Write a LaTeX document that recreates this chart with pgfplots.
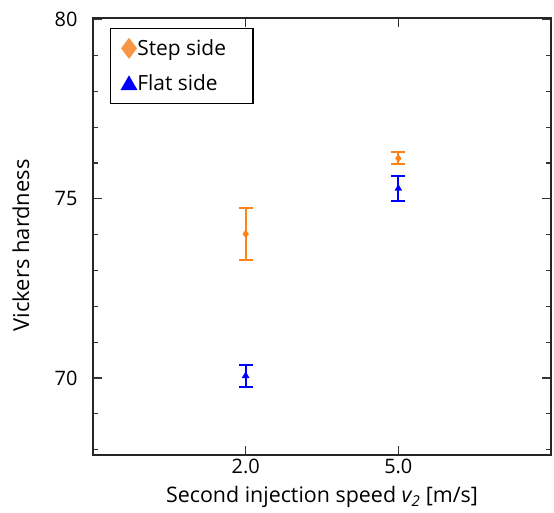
\documentclass[border=0pt]{standalone}
\usepackage{pgfplots}
\pgfplotsset{compat=1.18}
\usepackage{fontspec}
\setmainfont{Open Sans}
\definecolor{stepor}{RGB}{255,130,20}
\definecolor{steplg}{RGB}{247,150,70}
\definecolor{flatbl}{RGB}{0,0,255}
\begin{document}
\begin{tikzpicture}[x=1bp,y=1bp]
\begin{axis}[
  scale only axis,
  width=458bp, height=437bp,
  xmin=0, xmax=3, ymin=67.85, ymax=80.05,
  xtick={1,2}, xticklabels={2.0,5.0},
  ytick={70,75,80},
  minor ytick={68,69,71,72,73,74,76,77,78,79},
  tick align=inside,
  major tick length=9bp, minor tick length=5bp,
  tick style={line width=1.2pt, black!80},
  axis line style={line width=1.5pt, black!85},
  tick label style={font=\fontsize{20}{24}\selectfont},
  yticklabel style={xshift=-12bp},
  xticklabel style={yshift=-1bp},
  /pgf/number format/assume math mode=true,
  xlabel={Second injection speed \textit{v\textsubscript{2}} [m/s]},
  ylabel={Vickers hardness},
  every axis x label/.style={at={(rel axis cs:0.5,0)}, anchor=center, yshift=-42bp, font=\fontsize{21.5}{24}\selectfont},
  every axis y label/.style={at={(rel axis cs:0,0.48)}, rotate=90, anchor=center, yshift=72bp, font=\fontsize{22}{24}\selectfont},
  legend style={at={(17bp,427bp)}, anchor=north west, draw=black, line width=1.3pt,
    font=\fontsize{21}{24}\selectfont, inner xsep=11bp, inner ysep=10bp, row sep=16bp,
    nodes={inner sep=1bp}},
  legend cell align=left,
]
\addplot[only marks, mark=diamond*, mark size=3.8bp, color=stepor, fill=stepor,
  legend image code/.code={\draw[only marks, mark=diamond*, mark size=9.5bp, color=steplg, fill=steplg] plot coordinates {(0.3cm,0cm)};},
  error bars/.cd, y dir=both, y explicit,
  error bar style={line width=2pt, stepor},
  error mark options={rotate=90, mark size=7bp, line width=2pt, stepor}]
  coordinates {(1,74.02) +- (0,0.72) (2,76.13) +- (0,0.17)};
\addlegendentry{Step side\hspace*{15bp}}
\addplot[only marks, mark=triangle*, mark size=4bp, color=flatbl, fill=flatbl,
  legend image code/.code={\draw[only marks, mark=triangle*, mark size=8.5bp, color=flatbl, fill=flatbl] plot coordinates {(0.3cm,-0.05cm)};},
  error bars/.cd, y dir=both, y explicit,
  error bar style={line width=2pt, flatbl},
  error mark options={rotate=90, mark size=7bp, line width=2pt, flatbl}]
  coordinates {(1,70.06) +- (0,0.3) (2,75.29) +- (0,0.35)};
\addlegendentry{Flat side}
\end{axis}
\pgfresetboundingbox
\path[use as bounding box] (-93,-58) rectangle (461,455);
\end{tikzpicture}
\end{document}
